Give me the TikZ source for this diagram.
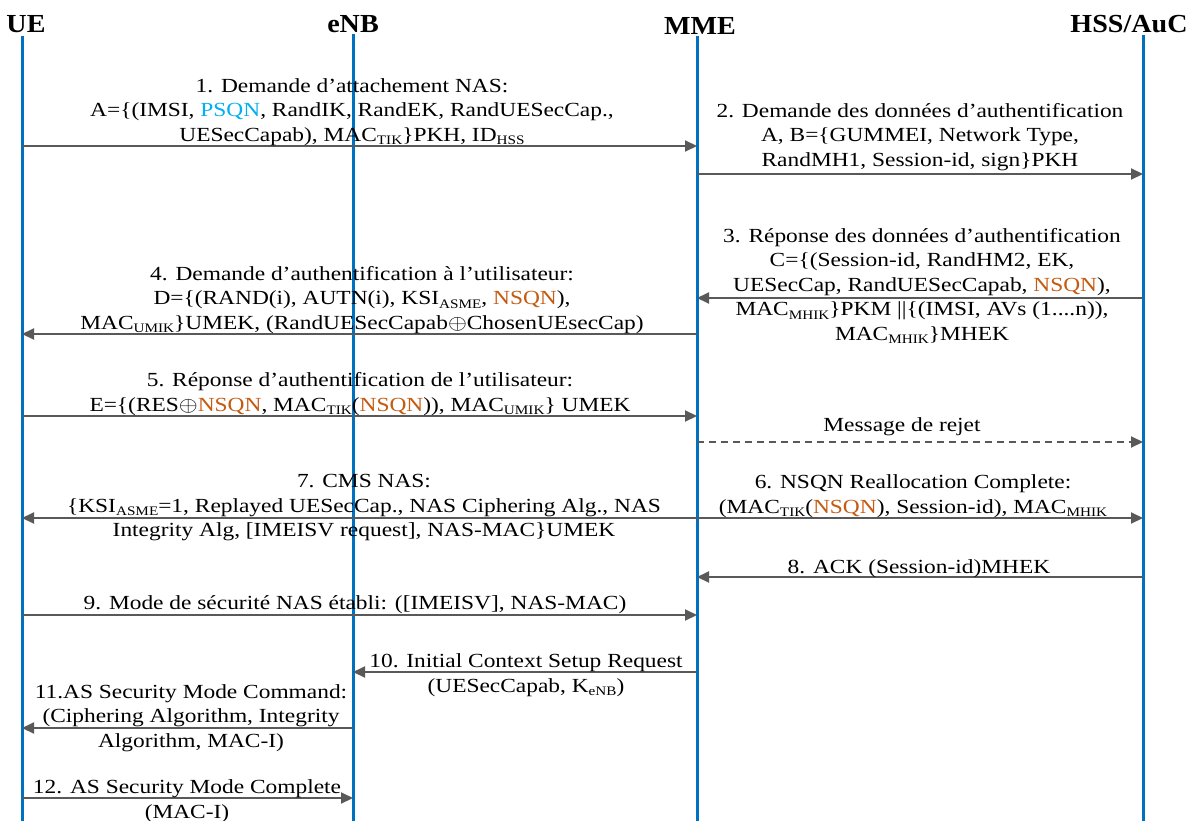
\documentclass[tikz,border=0pt]{standalone}
\usepackage{fontspec}
\setmainfont{Liberation Serif}
\usepackage{graphicx}
\usetikzlibrary{arrows.meta}
\definecolor{lifeblue}{HTML}{0070C0}
\definecolor{arrowgray}{HTML}{595959}
\definecolor{psqncol}{HTML}{00B0F0}
\definecolor{nsqncol}{HTML}{C55A11}
\newcommand{\sbs}[1]{\raisebox{-0.35ex}{\fontsize{13}{13}\selectfont #1}}
\newcommand{\xo}{\ensuremath{\oplus}}
\newcommand{\NS}{\textcolor{nsqncol}{NSQN}}
\newcommand{\hsf}{1.17}
\newcommand{\hl}[1]{\scalebox{\hsf}[1]{#1}}
\newcommand{\hd}[1]{\scalebox{1.08}[1]{#1}}
\tikzset{
  hdr/.style={font=\fontsize{26}{28}\selectfont\bfseries, inner sep=0pt},
  msg/.style={font=\fontsize{20}{24.5}\selectfont, align=center, inner sep=0pt},
  life/.style={draw=lifeblue, line width=3pt},
  arr/.style={draw=arrowgray, line width=2pt, -{Triangle[length=12pt,width=11pt]}},
}
\begin{document}
\begin{tikzpicture}[x=1pt,y=-1pt]
\useasboundingbox[fill=white] (0,0) rectangle (1188,821);
% headers
\node[hdr] (ue) at (26,24) {\hd{UE}};
\node[hdr] (enb) at (353,24) {\hd{eNB}};
\node[hdr] (mme) at (700,26) {\hd{MME}};
\node[hdr] (hss) at (1129,24) {\hd{HSS/AuC}};
% lifelines
\coordinate (ueT) at (22,36);   \coordinate (ueB) at (22,821);
\coordinate (enbT) at (353,34); \coordinate (enbB) at (353,821);
\coordinate (mmeT) at (697,36); \coordinate (mmeB) at (697,821);
\coordinate (hssT) at (1143,35);\coordinate (hssB) at (1143,821);
\draw[life] (ueT) -- (ueB);
\draw[life] (enbT) -- (enbB);
\draw[life] (mmeT) -- (mmeB);
\draw[life] (hssT) -- (hssB);
% arrow end points
\foreach \n/\y in {1/146,4/334,5/416,7/518,9/615,11/728,12/798}{\coordinate (u\n) at (22,\y);}
\foreach \n/\y in {11/728,12/798,10/672}{\coordinate (e\n) at (353,\y);}
\foreach \n/\y in {1/146,2/174,3/298,4/334,5/416,r/442,6/518,7/518,8/577,9/615,10/672}{\coordinate (m\n) at (697,\y);}
\foreach \n/\y in {2/174,3/298,r/442,6/518,8/577}{\coordinate (h\n) at (1143,\y);}
% messages
\draw[arr] (u1) -- (m1);
\draw[arr] (m2) -- (h2);
\draw[arr] (h3) -- (m3);
\draw[arr] (m4) -- (u4);
\draw[arr] (u5) -- (m5);
\draw[arr, dash pattern=on 7pt off 5pt] (mr) -- (hr);
\draw[arr] (m6) -- (h6);
\draw[arr] (m7) -- (u7);
\draw[arr] (h8) -- (m8);
\draw[arr] (u9) -- (m9);
\draw[arr] (m10) -- (e10);
\draw[arr] (e11) -- (u11);
\draw[arr] (u12) -- (e12);
% labels
\node[msg] (t1) at (352,112) {\hl{1. Demande d’attachement NAS:}\\ \hl{A=\{(IMSI, \textcolor{psqncol}{PSQN}, RandIK, RandEK, RandUESecCap.,}\\ \hl{UESecCapab), MAC\sbs{TIK}\}PKH, ID\sbs{HSS}}};
\node[msg] (t2) at (920,137) {\hl{2. Demande des données d’authentification}\\ \hl{A, B=\{GUMMEI, Network Type,}\\ \hl{RandMH1, Session-id, sign\}PKH}};
\node[msg] (t3) at (922,286) {\hl{3. Réponse des données d’authentification}\\ \hl{C=\{(Session-id, RandHM2, EK,}\\ \hl{UESecCap, RandUESecCapab, \NS),}\\ \hl{MAC\sbs{MHIK}\}PKM ||\{(IMSI, AVs (1....n)),}\\ \hl{MAC\sbs{MHIK}\}MHEK}};
\node[msg] (t4) at (362,300) {\hl{4. Demande d’authentification à l’utilisateur:}\\ \hl{D=\{(RAND(i), AUTN(i), KSI\sbs{ASME}, \NS),}\\ \hl{MAC\sbs{UMIK}\}UMEK, (RandUESecCapab\xo ChosenUEsecCap)}};
\node[msg] (t5) at (360,394) {\hl{5. Réponse d’authentification de l’utilisateur:}\\ \hl{E=\{(RES\xo\NS, MAC\sbs{TIK}(\NS)), MAC\sbs{UMIK}\} UMEK}};
\node[msg] (tr) at (902,427) {\hl{Message de rejet}};
\node[msg] (t6) at (913,496) {\hl{6. NSQN Reallocation Complete:}\\ \hl{(MAC\sbs{TIK}(\NS), Session-id), MAC\sbs{MHIK}}};
\node[msg] (t7) at (364,508) {\hl{7. CMS NAS:}\\ \hl{\{KSI\sbs{ASME}=1, Replayed UESecCap., NAS Ciphering Alg., NAS}\\ \hl{Integrity Alg, [IMEISV request], NAS-MAC\}UMEK}};
\node[msg] (t8) at (919,569) {\hl{8. ACK (Session-id)MHEK}};
\node[msg] (t9) at (355,605) {\hl{9. Mode de sécurité NAS établi: ([IMEISV], NAS-MAC)}};
\node[msg] (t10) at (526,675) {\hl{10. Initial Context Setup Request}\\ \hl{(UESecCapab, K\sbs{eNB})}};
\node[msg] (t11) at (191,718) {\hl{11.AS Security Mode Command:}\\ \hl{(Ciphering Algorithm, Integrity}\\ \hl{Algorithm, MAC-I)}};
\node[msg] (t12) at (187,801) {\hl{12. AS Security Mode Complete}\\ \hl{(MAC-I)}};
\end{tikzpicture}
\end{document}
